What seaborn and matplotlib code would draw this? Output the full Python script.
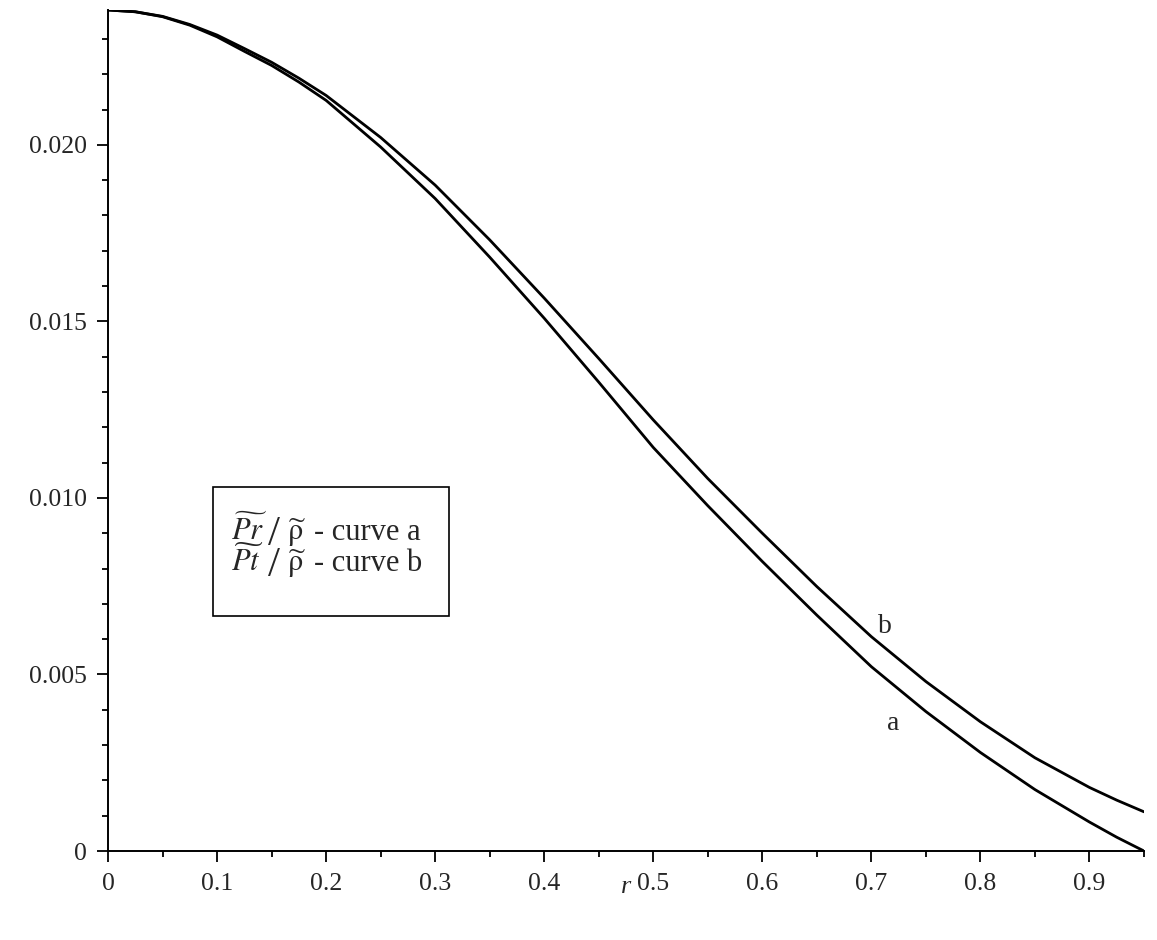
import numpy as np
import pandas as pd
import matplotlib
matplotlib.use("Agg")
import matplotlib.pyplot as plt
from matplotlib.patches import Rectangle
import seaborn as sns

# values
r_vals = [0.0, 0.025, 0.05, 0.075, 0.1, 0.125, 0.15, 0.175, 0.2, 0.25, 0.3, 0.35, 0.4, 0.45,
          0.5, 0.55, 0.6, 0.65, 0.7, 0.75, 0.8, 0.85, 0.9, 0.925, 0.95]
curve_a = [0.02382, 0.02377, 0.02363, 0.02339, 0.02306, 0.02265, 0.02225, 0.02178, 0.02126,
           0.01994, 0.01848, 0.01682, 0.01509, 0.01328, 0.01143, 0.00978, 0.00820, 0.00668,
           0.00522, 0.00395, 0.00279, 0.00174, 0.00082, 0.00039, 0.0]
curve_b = [0.02382, 0.02377, 0.02364, 0.02341, 0.02311, 0.02273, 0.02234, 0.02189, 0.02140,
           0.02021, 0.01886, 0.01731, 0.01566, 0.01395, 0.01221, 0.01055, 0.00900, 0.00749,
           0.00607, 0.00480, 0.00366, 0.00264, 0.00180, 0.00144, 0.00111]

x_ticks = [0, 0.1, 0.2, 0.3, 0.4, 0.5, 0.6, 0.7, 0.8, 0.9]
x_ticklabels = ["0", "0.1", "0.2", "0.3", "0.4", "0.5", "0.6", "0.7", "0.8", "0.9"]
y_ticks = [0, 0.005, 0.010, 0.015, 0.020]
y_ticklabels = ["0", "0.005", "0.010", "0.015", "0.020"]

df = pd.DataFrame({
    "r": r_vals * 2,
    "value": curve_a + curve_b,
    "curve": ["a"] * len(r_vals) + ["b"] * len(r_vals),
})

sns.set_style("ticks")
plt.rcParams["font.family"] = ["Liberation Serif", "DejaVu Serif"]
plt.rcParams["mathtext.fontset"] = "stix"

W, H = 1157, 940
fig = plt.figure(figsize=(W / 100, H / 100), dpi=100)
ax = fig.add_axes([108 / W, 89 / H, 1036 / W, 841 / H])

sns.lineplot(data=df, x="r", y="value", hue="curve", palette=["black", "black"],
             linewidth=2.0, legend=False, ax=ax)

ax.set_xlim(0, 0.95)
ax.set_ylim(0, 0.02382)
sns.despine(ax=ax)
for s in ["left", "bottom"]:
    ax.spines[s].set_linewidth(1.4)
    ax.spines[s].set_color("black")

ax.set_xticks(x_ticks)
ax.set_xticklabels(x_ticklabels)
ax.set_xticks([0.05, 0.15, 0.25, 0.35, 0.45, 0.55, 0.65, 0.75, 0.85, 0.95], minor=True)
ax.set_yticks(y_ticks)
ax.set_yticklabels(y_ticklabels)
ax.set_yticks([0.001 * i for i in range(24) if i % 5 != 0], minor=True)
ax.tick_params(which="major", length=8, width=1.3, labelsize=18.5, pad=7, color="black")
ax.tick_params(axis="x", which="major", pad=7.5)
ax.tick_params(which="minor", length=4.5, width=1.3, color="black")

ax.set_xlabel("r", fontsize=19, style="italic", labelpad=-13)
ax.set_ylabel("")

# curve labels
ax.text(0.7125, 0.00637, "b", fontsize=20, ha="center", va="center")
ax.text(0.720, 0.0036, "a", fontsize=20, ha="center", va="center")

# legend box
ax.add_patch(Rectangle((0.1014, 0.2794), 0.2277, 0.1534, transform=ax.transAxes,
                       fill=False, edgecolor="black", linewidth=1.2))


def px(x, y):
    # reference pixel position -> axes fraction
    return (x - 108) / 1036, (851 - y) / 841


legend_rows = [("Pr", "a", 540), ("Pt", "b", 571)]
for num, tail, base in legend_rows:
    kw = dict(transform=ax.transAxes, va="baseline", ha="left")
    ax.text(*px(231, base), r"$\widetilde{" + num + r"}$", fontsize=22, **kw)
    ax.text(*px(268, base + 5), "/", fontsize=31, **kw)
    ax.text(*px(287, base), r"$\widetilde{\mathrm{\rho}}$", fontsize=22, **kw)
    ax.text(*px(314, base), "- curve " + tail, fontsize=22, **kw)

fig.savefig("out.png", dpi=100)
